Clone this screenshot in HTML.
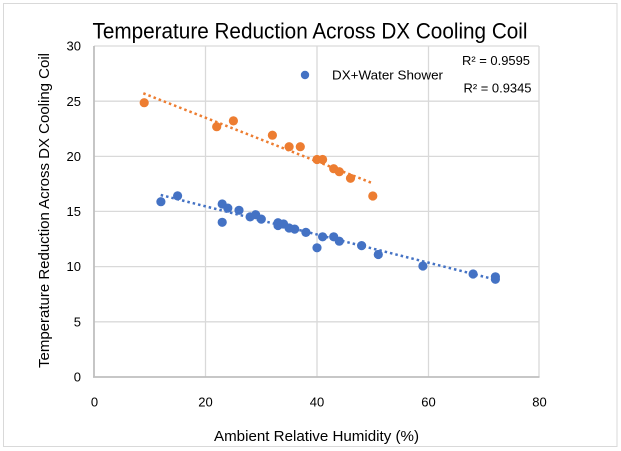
<!DOCTYPE html>
<html>
<head>
<meta charset="utf-8">
<style>
html,body{margin:0;padding:0;background:#fff;}
svg{display:block;}
text{font-family:"Liberation Sans",sans-serif;}
</style>
</head>
<body>
<svg width="621" height="451" viewBox="0 0 621 451" xmlns="http://www.w3.org/2000/svg">
<rect x="0" y="0" width="621" height="451" fill="#fff"/>
<rect x="3.5" y="3.5" width="613.5" height="443" fill="#fff" stroke="#d9d9d9" stroke-width="1"/>
<!-- gridlines -->
<g stroke="#d9d9d9" stroke-width="1.3">
<line x1="94" y1="46" x2="539" y2="46"/>
<line x1="94" y1="101.2" x2="539" y2="101.2"/>
<line x1="94" y1="156.4" x2="539" y2="156.4"/>
<line x1="94" y1="211.4" x2="539" y2="211.4"/>
<line x1="94" y1="266.6" x2="539" y2="266.6"/>
<line x1="94" y1="321.8" x2="539" y2="321.8"/>
<line x1="205.5" y1="46" x2="205.5" y2="377"/>
<line x1="317" y1="46" x2="317" y2="377"/>
<line x1="428.5" y1="46" x2="428.5" y2="377"/>
<line x1="539" y1="46" x2="539" y2="377"/>
</g>
<!-- axes -->
<g stroke="#bfbfbf" stroke-width="1.8">
<line x1="94" y1="46" x2="94" y2="377.5"/>
<line x1="93" y1="377" x2="539.5" y2="377"/>
</g>
<!-- title -->
<text x="310" y="38.5" font-size="22.5" fill="#000" text-anchor="middle" textLength="435" lengthAdjust="spacingAndGlyphs">Temperature Reduction Across DX Cooling Coil</text>
<!-- y tick labels -->
<g font-size="13" fill="#000" text-anchor="end">
<text x="81" y="50.5">30</text>
<text x="81" y="106">25</text>
<text x="81" y="161">20</text>
<text x="81" y="216">15</text>
<text x="81" y="271">10</text>
<text x="81" y="326.5">5</text>
<text x="81" y="381.5">0</text>
</g>
<!-- x tick labels -->
<g font-size="13" fill="#000" text-anchor="middle">
<text x="94.5" y="406.5">0</text>
<text x="205.5" y="406.5">20</text>
<text x="317" y="406.5">40</text>
<text x="428.5" y="406.5">60</text>
<text x="539.5" y="406.5">80</text>
</g>
<!-- axis titles -->
<text x="316.5" y="441" font-size="14.5" fill="#000" text-anchor="middle" textLength="205" lengthAdjust="spacingAndGlyphs">Ambient Relative Humidity (%)</text>
<text transform="translate(49,210.5) rotate(-90)" x="0" y="0" font-size="14.5" fill="#000" text-anchor="middle" textLength="315" lengthAdjust="spacingAndGlyphs">Temperature Reduction Across DX Cooling Coil</text>
<!-- legend -->
<circle cx="305" cy="75" r="4.2" fill="#4472C4"/>
<text x="332" y="79.5" font-size="13" fill="#000" textLength="111" lengthAdjust="spacingAndGlyphs">DX+Water Shower</text>
<text x="462" y="65" font-size="13" fill="#000" textLength="68" lengthAdjust="spacingAndGlyphs">R² = 0.9595</text>
<text x="463.5" y="92.5" font-size="13" fill="#000" textLength="68" lengthAdjust="spacingAndGlyphs">R² = 0.9345</text>
<!-- trendlines -->
<line x1="143.3" y1="93.3" x2="372" y2="183" stroke="#ED7D31" stroke-width="2.5" stroke-dasharray="2.5 3"/>
<line x1="160.7" y1="195" x2="497" y2="280" stroke="#4472C4" stroke-width="2.5" stroke-dasharray="2.5 3"/>
<!-- orange points -->
<g fill="#ED7D31">
<circle cx="144.2" cy="102.7" r="4.6"/>
<circle cx="216.7" cy="126.7" r="4.6"/>
<circle cx="233.4" cy="120.9" r="4.6"/>
<circle cx="272.4" cy="135.2" r="4.6"/>
<circle cx="289.1" cy="146.7" r="4.6"/>
<circle cx="300.3" cy="146.7" r="4.6"/>
<circle cx="317.0" cy="159.5" r="4.6"/>
<circle cx="322.6" cy="159.5" r="4.6"/>
<circle cx="333.7" cy="168.7" r="4.6"/>
<circle cx="339.3" cy="171.7" r="4.6"/>
<circle cx="350.5" cy="178.3" r="4.6"/>
<circle cx="372.8" cy="196.0" r="4.6"/>
</g>
<!-- blue points -->
<g fill="#4472C4">
<circle cx="160.9" cy="201.7" r="4.6"/>
<circle cx="177.6" cy="195.9" r="4.6"/>
<circle cx="222.2" cy="204.0" r="4.6"/>
<circle cx="222.2" cy="222.3" r="4.6"/>
<circle cx="227.8" cy="208.1" r="4.6"/>
<circle cx="239.0" cy="210.3" r="4.6"/>
<circle cx="250.1" cy="216.9" r="4.6"/>
<circle cx="255.7" cy="214.7" r="4.6"/>
<circle cx="261.3" cy="219.1" r="4.6"/>
<circle cx="278.0" cy="222.7" r="4.6"/>
<circle cx="278.0" cy="225.5" r="4.6"/>
<circle cx="283.6" cy="224.0" r="4.6"/>
<circle cx="289.1" cy="228.0" r="4.6"/>
<circle cx="294.7" cy="229.1" r="4.6"/>
<circle cx="305.9" cy="232.4" r="4.6"/>
<circle cx="317.0" cy="247.8" r="4.6"/>
<circle cx="322.6" cy="236.8" r="4.6"/>
<circle cx="333.7" cy="236.8" r="4.6"/>
<circle cx="339.3" cy="241.2" r="4.6"/>
<circle cx="361.6" cy="245.6" r="4.6"/>
<circle cx="378.3" cy="254.5" r="4.6"/>
<circle cx="422.9" cy="266.0" r="4.6"/>
<circle cx="473.1" cy="274.0" r="4.6"/>
<circle cx="495.4" cy="276.8" r="4.6"/>
<circle cx="495.4" cy="279.3" r="4.6"/>
</g>
</svg>
</body>
</html>
